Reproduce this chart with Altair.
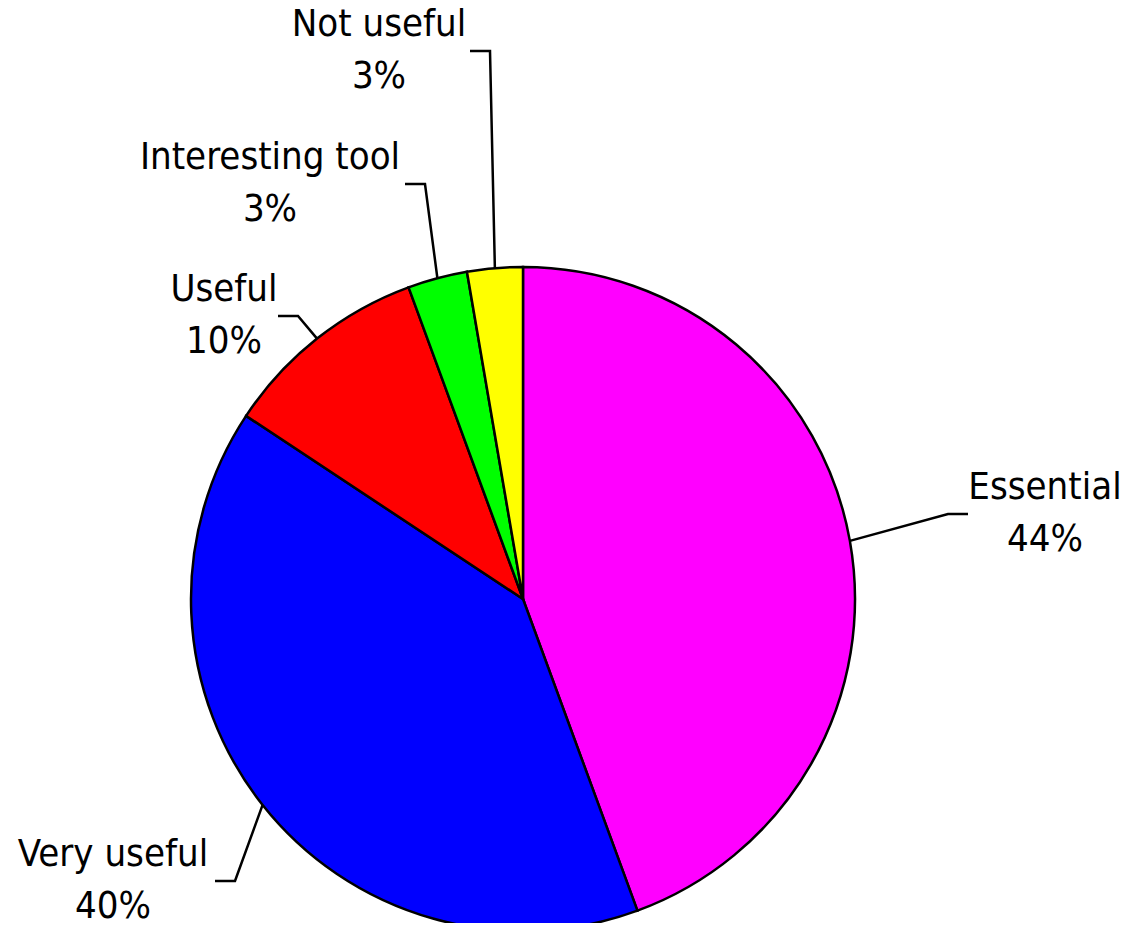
import math
import altair as alt
import pandas as pd

# ---- data ----
categories = ["Essential", "Very useful", "Useful", "Interesting tool", "Not useful"]
values = [44.4, 39.9, 10.1, 2.9, 2.7]
colors = ["#FF00FF", "#0000FF", "#FF0000", "#00FF00", "#FFFF00"]

# ---- layout (pixels, relative to pie centre; y grows downward) ----
W, H = 1115, 915
CX, CY = 515, 591          # pie centre inside plot area
R = 332                    # pie radius
LH = 52                    # label line height
# label block centre (dx, dy) and x where the leader's horizontal tick ends
label_layout = {
    "Essential":        (522, -85, 445),
    "Very useful":      (-410, 282, -308),
    "Useful":           (-299, -283, -245),
    "Interesting tool": (-253, -415, -118),
    "Not useful":       (-144, -548, -53),
}
TICK = 20
FONT = "DejaVu Sans Condensed, DejaVu Sans"
FS = 38

total = sum(values)
df = pd.DataFrame({
    "category": categories,
    "value": values,
    "idx": list(range(len(categories))),
    "label": [f"{c}\n{round(v / total * 100)}%" for c, v in zip(categories, values)],
})
df["lx"] = [label_layout[c][0] for c in categories]
# first text line sits half a line above the block centre
df["ly"] = [label_layout[c][1] - LH / 2 for c in categories]

# leader lines: start on the rim at the slice mid-angle, elbow, then tick to label
rows = []
cum = 0.0
for c, v in zip(categories, values):
    mid = (cum + v / 2) / total * 2 * math.pi
    cum += v
    sx, sy = R * math.sin(mid), -R * math.cos(mid)
    lx, ly, ex = label_layout[c]
    elbow_x = ex - TICK if ex > 0 else ex + TICK
    rows += [
        {"category": c, "p": 0, "x": sx, "y": sy},
        {"category": c, "p": 1, "x": elbow_x, "y": ly},
        {"category": c, "p": 2, "x": ex, "y": ly},
    ]
lines_df = pd.DataFrame(rows)

xs = alt.Scale(domain=[-CX, W - CX], nice=False, zero=False)
ys = alt.Scale(domain=[-CY, H - CY], nice=False, zero=False, reverse=True)

pie = alt.Chart(df).mark_arc(outerRadius=R, stroke="black", strokeWidth=2.5).encode(
    theta=alt.Theta("value:Q", stack=True),
    order=alt.Order("idx:Q"),
    color=alt.Color("category:N", scale=alt.Scale(domain=categories, range=colors), legend=None),
    x=alt.datum(0, scale=xs, axis=None),
    y=alt.datum(0, scale=ys, axis=None),
)

leaders = alt.Chart(lines_df).mark_line(color="black", strokeWidth=2.5).encode(
    x=alt.X("x:Q", scale=xs, axis=None),
    y=alt.Y("y:Q", scale=ys, axis=None),
    detail="category:N",
    order="p:Q",
)

labels = alt.Chart(df).mark_text(
    font=FONT, fontSize=FS, lineBreak="\n", lineHeight=LH,
    align="center", baseline="middle", color="black",
).encode(
    x=alt.X("lx:Q", scale=xs, axis=None),
    y=alt.Y("ly:Q", scale=ys, axis=None),
    text="label:N",
)

chart = alt.layer(pie, leaders, labels).properties(
    width=W, height=H, padding=0, autosize=alt.AutoSizeParams(type="none"),
).configure(background="white").configure_view(strokeWidth=0, stroke="transparent")

chart.save("out.html", embed_options={"renderer": "svg", "actions": False})
